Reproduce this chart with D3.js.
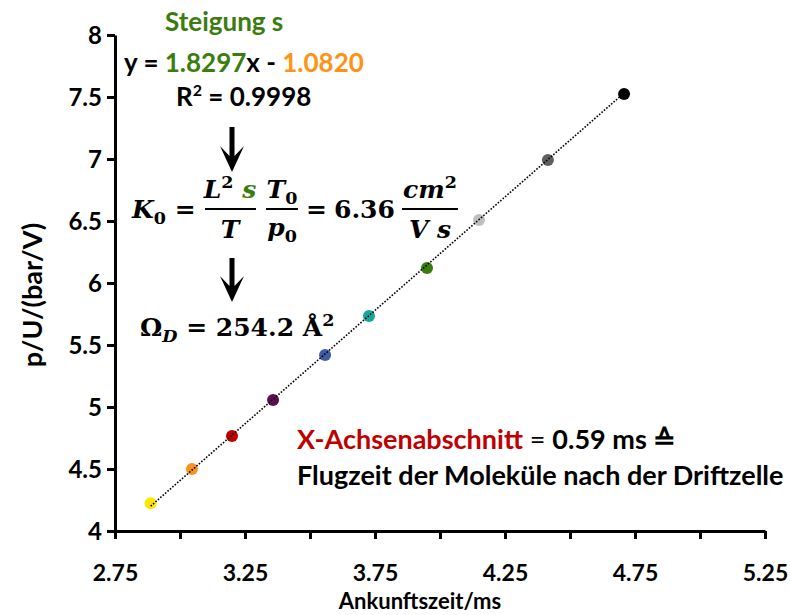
<!DOCTYPE html>
<html>
<head>
<meta charset="utf-8">
<script src="https://cdn.jsdelivr.net/npm/d3@7"></script>
<style>
  body { margin: 0; background: #fff; }
  text { font-family: Lato, "Open Sans", sans-serif; font-weight: bold; }
  .math { font-family: "DejaVu Serif", serif; font-style: italic; font-weight: bold; }
</style>
</head>
<body>
<div id="chart"></div>
<script>
// measured points (Ankunftszeit in ms vs p/U in bar/V)
const arrivalTimes = [2.887, 3.046, 3.200, 3.358, 3.558, 3.727, 3.950, 4.150, 4.415, 4.708];
const pOverU = [4.223, 4.500, 4.766, 5.056, 5.419, 5.734, 6.121, 6.508, 6.992, 7.524];
const pointColors = ["#FFE600", "#F7931E", "#C00000", "#5A0F4E", "#3E5DA6", "#16A59C", "#3A7D0E", "#BFBFBF", "#5F5F5F", "#000000"];

const xTicks = [2.75, 3, 3.25, 3.5, 3.75, 4, 4.25, 4.5, 4.75, 5, 5.25];
const xLabels = [2.75, 3.25, 3.75, 4.25, 4.75, 5.25];
const yTicks = [4, 4.5, 5, 5.5, 6, 6.5, 7, 7.5, 8];

// linear fit from the chart
const slope = 1.8297;
const intercept = -1.0820;

const width = 790, height = 615;
const green = "#3A7D0E", orange = "#FF9214", red = "#C00000";

const svg = d3.select("#chart")
    .append("svg")
    .attr("width", width)
    .attr("height", height);

const x = d3.scaleLinear().domain([2.75, 5.25]).range([115, 765]);
const y = d3.scaleLinear().domain([4, 8]).range([531, 35]);

// x axis
const xAxis = svg.append("g")
    .attr("transform", `translate(0,${y(4)})`)
    .call(d3.axisBottom(x).tickValues(xTicks).tickSize(8).tickSizeOuter(0)
        .tickFormat(d => xLabels.includes(d) ? d3.format(".2f")(d) : ""));
xAxis.select(".domain").attr("stroke-width", 3);
xAxis.selectAll(".tick line").attr("stroke-width", 3);
xAxis.selectAll(".tick text")
    .attr("font-family", "Lato, sans-serif")
    .attr("font-size", 23)
    .attr("font-weight", "bold")
    .attr("fill", "#000")
    .attr("y", 0)
    .attr("dy", 50);

// y axis
const yAxis = svg.append("g")
    .attr("transform", `translate(${x(2.75)},0)`)
    .call(d3.axisLeft(y).tickValues(yTicks).tickSize(8).tickSizeOuter(0)
        .tickFormat(d3.format("")));
yAxis.select(".domain").attr("stroke-width", 3);
yAxis.selectAll(".tick line").attr("stroke-width", 3);
yAxis.selectAll(".tick text")
    .attr("font-family", "'Liberation Sans', Arial, sans-serif")
    .attr("font-size", 24)
    .attr("font-weight", "bold")
    .attr("fill", "#000")
    .attr("x", -13)
    .attr("dy", "0.36em");

// axis titles
svg.append("text")
    .attr("x", 420)
    .attr("y", 609)
    .attr("text-anchor", "middle")
    .attr("font-size", 22)
    .text("Ankunftszeit/ms");

svg.append("text")
    .attr("transform", `translate(42,295) rotate(-90)`)
    .attr("text-anchor", "middle")
    .attr("font-family", "'Liberation Sans', Arial, sans-serif")
    .attr("font-size", 27)
    .text("p/U/(bar/V)");

// trend line
const xMin = d3.min(arrivalTimes), xMax = d3.max(arrivalTimes);

// points
svg.append("g")
    .selectAll("circle")
    .data(arrivalTimes)
    .join("circle")
    .attr("cx", d => x(d))
    .attr("cy", (d, i) => y(pOverU[i]))
    .attr("r", 6)
    .attr("fill", (d, i) => pointColors[i]);

// dotted trendline drawn over the dots
svg.append("line")
    .attr("x1", x(xMin)).attr("y1", y(slope * xMin + intercept))
    .attr("x2", x(xMax)).attr("y2", y(slope * xMax + intercept))
    .attr("stroke", "#000")
    .attr("stroke-width", 1.6)
    .attr("stroke-dasharray", "1.6,1.6");

// fit annotation
svg.append("text").attr("x", 165).attr("y", 31).attr("font-size", 26)
    .attr("fill", green).text("Steigung s");

const eq = svg.append("text").attr("x", 124).attr("y", 72).attr("font-size", 26);
eq.append("tspan").text("y = ");
eq.append("tspan").attr("fill", green).text(slope.toFixed(4));
eq.append("tspan").text("x - ");
eq.append("tspan").attr("fill", orange).text(Math.abs(intercept).toFixed(4));

const r2 = svg.append("text").attr("x", 176).attr("y", 106).attr("font-size", 26);
r2.append("tspan").text("R");
r2.append("tspan").attr("font-size", 16).attr("dy", -10).text("2");
r2.append("tspan").attr("dy", 10).text(" = 0.9998");

// arrows
function arrow(cx, y0, y1) {
    svg.append("path")
        .attr("d", `M${cx - 2.5},${y0} L${cx + 2.5},${y0} L${cx + 2.5},${y1 - 16} L${cx + 12},${y1 - 26}
                    L${cx},${y1} L${cx - 12},${y1 - 26} L${cx - 2.5},${y1 - 16} Z`)
        .attr("fill", "#000");
}
arrow(232, 127, 172);
arrow(232, 258, 302);

// K0 formula
const fs = 25;
function mtext(px, py, parts, anchor) {
    const t = svg.append("text").attr("class", "math").attr("x", px).attr("y", py)
        .attr("font-size", fs).attr("text-anchor", anchor || "start");
    parts.forEach(p => {
        const s = t.append("tspan").text(p.t);
        if (p.sub) s.attr("font-size", fs * 0.7).attr("dy", 6);
        if (p.sup) s.attr("font-size", fs * 0.7).attr("dy", -10);
        if (p.back) s.attr("dy", p.back);
        if (p.up) s.attr("font-style", "normal");
        if (p.fill) s.attr("fill", p.fill);
    });
    return t;
}
function fracLine(x0, x1) {
    svg.append("line").attr("x1", x0).attr("x2", x1).attr("y1", 209).attr("y2", 209)
        .attr("stroke", "#000").attr("stroke-width", 2);
}

mtext(132, 218, [{ t: "K" }, { t: "0", sub: true, up: true }, { t: " =", back: -6, up: true }]);
fracLine(205, 256);
mtext(230, 198, [{ t: "L" }, { t: "2", sup: true, up: true }, { t: " s", back: 10, fill: green }], "middle");
mtext(230, 238, [{ t: "T" }], "middle");
fracLine(266, 298);
mtext(282, 198, [{ t: "T" }, { t: "0", sub: true, up: true }], "middle");
mtext(282, 236, [{ t: "p" }, { t: "0", sub: true, up: true }], "middle");
mtext(306, 218, [{ t: "=", up: true }]);
mtext(334, 218, [{ t: "6.36", up: true }]);
fracLine(402, 458);
mtext(430, 198, [{ t: "cm" }, { t: "2", sup: true, up: true }], "middle");
mtext(430, 238, [{ t: "V s" }], "middle");

mtext(140, 336, [{ t: "Ω", up: true }, { t: "D", sub: true }, { t: " = 254.2 ", back: -6, up: true },
    { t: "Å", up: true }, { t: "2", sup: true, up: true }]);

// x-intercept note
const note = svg.append("text").attr("x", 297).attr("y", 449).attr("font-size", 27);
note.append("tspan").attr("fill", red).text("X-Achsenabschnitt");
note.append("tspan").attr("font-weight", "normal").text(" = ");
note.append("tspan").text("0.59 ms ≙");
svg.append("text").attr("x", 297).attr("y", 485).attr("font-size", 27)
    .text("Flugzeit der Moleküle nach der Driftzelle");
</script>
</body>
</html>
